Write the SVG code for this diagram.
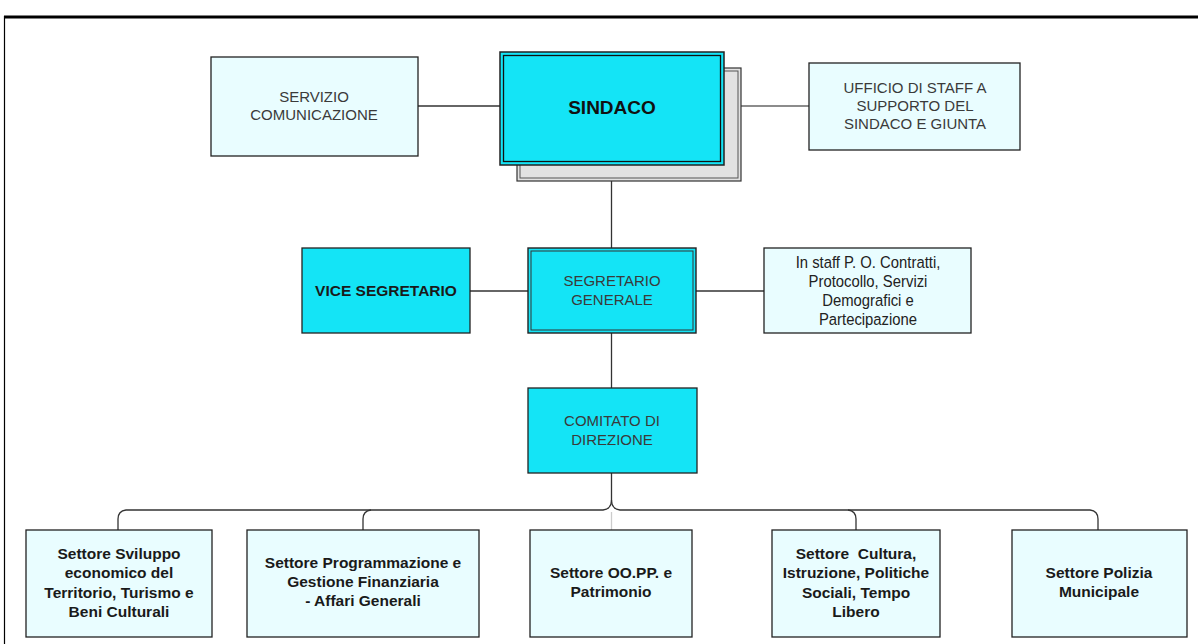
<svg xmlns="http://www.w3.org/2000/svg" width="1198" height="644" viewBox="0 0 1198 644">
<style>
.light{fill:#e9fdff;stroke:#222;stroke-width:1.3}
.cyan{fill:#14e4f6;stroke:#222;stroke-width:1.3}
.t{font-family:"Liberation Sans",Arial,sans-serif;font-size:15px;fill:#3a3a3a;text-anchor:middle}
.b{font-family:"Liberation Sans",Arial,sans-serif;font-size:15.5px;font-weight:bold;fill:#1a1a1a;text-anchor:middle}
.n{font-family:"Liberation Sans",Arial,sans-serif;font-size:16.5px;fill:#222;text-anchor:middle}
.c{fill:none;stroke:#333;stroke-width:1.3}
</style>
<rect width="1198" height="644" fill="#fff"/>
<g id="frame">
<line x1="4" y1="17" x2="1198" y2="17" stroke="#000" stroke-width="3"/>
<line x1="4.5" y1="16" x2="4.5" y2="644" stroke="#000" stroke-width="1.2"/>
</g>
<g id="connectors">
<line class="c" x1="418" y1="106" x2="500" y2="106"/>
<line class="c" x1="741" y1="106" x2="809" y2="106" style="stroke:#666"/>
<line class="c" x1="611.5" y1="181" x2="611.5" y2="248"/>
<line class="c" x1="470" y1="291" x2="528" y2="291"/>
<line class="c" x1="696" y1="291" x2="764" y2="291"/>
<line class="c" x1="611.5" y1="333" x2="611.5" y2="388"/>
<path class="c" d="M611.5 473 V500 Q611.5 509 603 510 H126 Q118 511 118 519 V530"/>
<path class="c" d="M611.5 500 Q611.5 509 620 510 H1090 Q1098 511 1098 519 V530"/>
<path class="c" d="M371 510 Q363 511 363 519 V530"/>
<path class="c" d="M848 510 Q856 511 856 519 V530"/>
<line x1="611.5" y1="512" x2="611.5" y2="530" stroke="#ccc" stroke-width="1.3"/>
</g>
<g id="servizio">
<rect class="light" x="211" y="57" width="207" height="99"/>
<text class="t" x="314" y="102">SERVIZIO</text>
<text class="t" x="314" y="120">COMUNICAZIONE</text>
</g>
<g id="sindaco">
<rect x="517" y="68" width="224" height="113" fill="#e2e2e2" stroke="#333" stroke-width="1.2"/>
<rect x="520" y="71" width="218" height="107" fill="none" stroke="#555" stroke-width="1"/>
<rect x="500" y="52" width="224" height="113" fill="#14e4f6" stroke="#222" stroke-width="1.5"/>
<rect x="503.5" y="55.5" width="217" height="106" fill="none" stroke="#111" stroke-width="1.3"/>
<text x="612" y="114" font-family="'Liberation Sans',Arial,sans-serif" font-size="19" font-weight="bold" fill="#111" text-anchor="middle">SINDACO</text>
</g>
<g id="ufficio">
<rect class="light" x="809" y="63" width="211" height="87"/>
<text class="t" x="915" y="93">UFFICIO DI STAFF A</text>
<text class="t" x="915" y="111">SUPPORTO DEL</text>
<text class="t" x="915" y="129">SINDACO E GIUNTA</text>
</g>
<g id="vice">
<rect class="cyan" x="302" y="248" width="168" height="85"/>
<text class="b" x="386" y="296">VICE SEGRETARIO</text>
</g>
<g id="segretario">
<rect x="528" y="248" width="168" height="85" fill="#14e4f6" stroke="#222" stroke-width="1.4"/>
<rect x="531" y="251" width="162" height="79" fill="none" stroke="#333" stroke-width="1"/>
<text class="t" x="612" y="286">SEGRETARIO</text>
<text class="t" x="612" y="305">GENERALE</text>
</g>
<g id="staff">
<rect class="light" x="764" y="248" width="207" height="85"/>
<g transform="translate(868 0) scale(0.9 1)">
<text class="n" x="0" y="268">In staff P. O. Contratti,</text>
<text class="n" x="0" y="287">Protocollo, Servizi</text>
<text class="n" x="0" y="306">Demografici e</text>
<text class="n" x="0" y="325">Partecipazione</text>
</g>
</g>
<g id="comitato">
<rect class="cyan" x="528" y="388" width="169" height="85"/>
<text class="t" x="612" y="426">COMITATO DI</text>
<text class="t" x="612" y="445">DIREZIONE</text>
</g>
<g id="s1">
<rect class="light" x="26" y="530" width="186" height="107"/>
<text class="b" x="119" y="559">Settore Sviluppo</text>
<text class="b" x="119" y="578">economico del</text>
<text class="b" x="119" y="598">Territorio, Turismo e</text>
<text class="b" x="119" y="617">Beni Culturali</text>
</g>
<g id="s2">
<rect class="light" x="247" y="530" width="232" height="107"/>
<text class="b" x="363" y="568">Settore Programmazione e</text>
<text class="b" x="363" y="587">Gestione Finanziaria</text>
<text class="b" x="363" y="606">- Affari Generali</text>
</g>
<g id="s3">
<rect class="light" x="530" y="530" width="162" height="107"/>
<text class="b" x="611" y="578">Settore OO.PP. e</text>
<text class="b" x="611" y="597">Patrimonio</text>
</g>
<g id="s4">
<rect class="light" x="772" y="530" width="168" height="107"/>
<text class="b" x="856" y="559" xml:space="preserve">Settore  Cultura,</text>
<text class="b" x="856" y="578">Istruzione, Politiche</text>
<text class="b" x="856" y="598">Sociali, Tempo</text>
<text class="b" x="856" y="617">Libero</text>
</g>
<g id="s5">
<rect class="light" x="1012" y="530" width="175" height="107"/>
<text class="b" x="1099" y="578">Settore Polizia</text>
<text class="b" x="1099" y="597">Municipale</text>
</g>
</svg>
